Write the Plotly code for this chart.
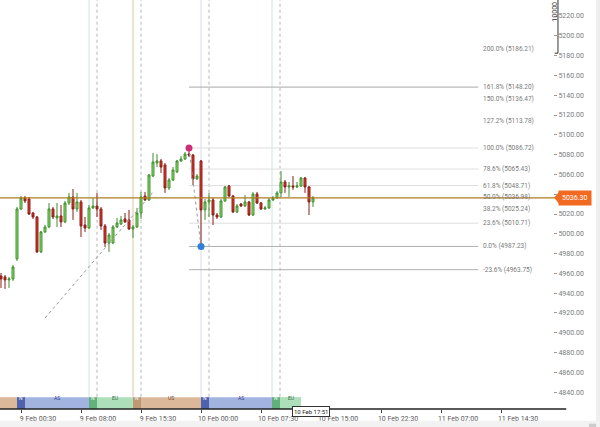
import plotly.graph_objects as go

# ---------------- data ----------------
idx = list(range(-5, 74))
opens = [4957.4, 4956.4, 4953.4, 4954.4, 4974.6, 5025.1, 5036.2, 5035.2, 5021.0, 5017.0,
         4981.7, 5001.9, 5006.9, 5025.1, 5016.0, 5018.0, 5012.0, 5031.1, 5037.2, 5025.1,
         5032.2, 5008.9, 5005.9, 5026.1, 5028.1, 5025.1, 5007.9, 4990.7, 4990.7, 5006.9,
         5009.9, 5015.0, 5014.0, 5004.9, 5006.9, 5021.0, 5038.2, 5034.2, 5058.4, 5071.6,
         5073.6, 5069.5, 5046.3, 5054.4, 5062.5, 5073.6, 5075.6, 5080.6, 5079.6, 5055.4,
         5073.6, 5024.1, 5032.2, 5034.2, 5019.0, 5017.0, 5033.2, 5048.3, 5038.2, 5022.1,
         5030.1, 5028.1, 5032.2, 5019.0, 5040.2, 5031.1, 5025.1, 5026.1, 5034.2, 5036.2,
         5041.3, 5052.4, 5047.3, 5048.3, 5047.3, 5048.3, 5056.4, 5047.3, 5032.2]
closes = [4954.4, 4953.4, 4954.4, 4966.5, 5025.1, 5036.2, 5033.2, 5020.0, 5017.0, 4981.7,
          5001.9, 5006.9, 5025.1, 5017.0, 5018.0, 5012.0, 5031.1, 5037.2, 5025.1, 5032.2,
          5007.9, 5005.9, 5026.1, 5028.1, 5025.1, 5007.9, 4990.7, 4998.8, 5006.9, 5010.9,
          5014.0, 5012.0, 5004.9, 5006.9, 5021.0, 5037.2, 5034.2, 5059.4, 5072.6, 5073.6,
          5067.5, 5046.3, 5054.4, 5064.5, 5073.6, 5075.6, 5080.6, 5079.6, 5055.4, 5058.4,
          5024.1, 5032.2, 5034.2, 5019.0, 5017.0, 5033.2, 5047.3, 5038.2, 5022.1, 5028.1,
          5028.1, 5032.2, 5019.0, 5040.2, 5031.1, 5025.1, 5026.1, 5034.2, 5036.2, 5041.3,
          5052.4, 5047.3, 5048.3, 5047.3, 5048.3, 5056.4, 5047.3, 5032.2, 5036.3]
highs = [4960.4, 4958.4, 4956.4, 4968.5, 5027.1, 5038.2, 5038.2, 5037.2, 5022.1, 5018.0,
         5002.9, 5008.9, 5031.1, 5027.1, 5031.1, 5029.1, 5033.2, 5041.3, 5045.3, 5041.3,
         5034.2, 5017.0, 5029.1, 5036.2, 5041.3, 5027.1, 5009.9, 5000.8, 5008.9, 5016.0,
         5018.0, 5021.0, 5024.1, 5008.9, 5026.1, 5042.3, 5042.3, 5060.4, 5081.7, 5080.6,
         5075.6, 5071.6, 5056.4, 5067.5, 5074.6, 5078.6, 5082.7, 5086.72, 5080.6, 5060.4,
         5074.6, 5035.2, 5041.3, 5036.2, 5021.0, 5035.2, 5048.3, 5049.3, 5039.2, 5030.1,
         5031.1, 5039.2, 5033.2, 5042.3, 5042.3, 5032.2, 5028.1, 5036.2, 5038.2, 5043.3,
         5063.5, 5054.4, 5052.4, 5058.4, 5052.4, 5057.4, 5057.4, 5048.3, 5038.2]
lows = [4945.3, 4944.3, 4945.3, 4952.4, 4972.6, 5024.1, 5031.1, 5019.0, 5015.0, 4980.6,
        4980.6, 5000.8, 5005.9, 5015.0, 5006.9, 5006.9, 5010.9, 5029.1, 5014.0, 5022.1,
        4996.8, 5001.9, 5004.9, 5025.1, 5017.0, 5003.9, 4986.7, 4981.7, 4989.7, 5005.9,
        5008.9, 5010.9, 5003.9, 4995.8, 5005.9, 5015.0, 5033.2, 5033.2, 5057.4, 5067.5,
        5061.5, 5041.3, 5044.3, 5053.4, 5061.5, 5072.6, 5074.6, 5077.6, 5049.3, 5054.4,
        4987.23, 5014.0, 5017.0, 5008.9, 5015.0, 5016.0, 5032.2, 5037.2, 5021.0, 5021.0,
        5027.1, 5027.1, 5018.0, 5018.0, 5030.1, 5024.1, 5024.1, 5025.1, 5033.2, 5035.2,
        5037.2, 5041.3, 5037.2, 5044.3, 5046.3, 5047.3, 5041.3, 5019.0, 5027.1]

# x-axis ticks (bar index) and labels
tick_idx = [0, 15, 30, 45, 60, 75, 90, 105, 120]
tick_text = ["9 Feb 00:30", "9 Feb 08:00", "9 Feb 15:30", "10 Feb 00:00", "10 Feb 07:30",
             "10 Feb 15:00", "10 Feb 22:30", "11 Feb 07:00", "11 Feb 14:30"]

# price axis
price_ticks = list(range(4840, 5221, 20))
last_price = 5036.30

# dotted trend line (bar index, price)
trend_x = [6, 33]
trend_y = [4915.0, 5042.0]

# fibonacci
fib_high_idx, fib_high = 42, 5086.72
fib_low_idx, fib_low = 45, 4987.23
fib_ratios = [2.0, 1.618, 1.5, 1.272, 1.0, 0.786, 0.618, 0.5, 0.382, 0.236, 0.0, -0.236]
fib_pct = ["200.0%", "161.8%", "150.0%", "127.2%", "100.0%", "78.6%", "61.8%", "50.0%",
           "38.2%", "23.6%", "0.0%", "-23.6%"]
fib_line_col = [None, "#a8a8a8", None, None, "#dedede", "#dedede", "#dedede", None,
                None, "#dedede", "#b0b0b0", "#b0b0b0"]
fib_end_idx = 114.3

# sessions (bar-index boundaries)
sess_start = [-5.3, -1, 1, 17, 19, 28, 30, 45, 47, 62.75, 64.75]
sess_end = [-1, 1, 17, 19, 28, 30, 45, 47, 62.75, 64.75, 70]
sess_label = ["", "N", "AS", "N", "EU", "N", "US", "N", "AS", "N", "EU"]
sess_kind = ["US", "ASN", "AS", "EUN", "EU", "USN", "US", "ASN", "AS", "EUN", "EU"]
sess_fill = {"US": "#dcb89b", "USN": "#bf9774", "AS": "#a3b3df", "ASN": "#4f63ad",
             "EU": "#ade0ba", "EUN": "#62b07a"}
sess_font = {"US": "#6b4a2e", "USN": "#ffffff", "AS": "#33408a", "ASN": "#ffffff",
             "EU": "#2a6a3a", "EUN": "#ffffff"}
sess_open_idx = [17, 28, 45, 62.75]
sess_open_col = ["#cfe6d8", "#dcc4ae", "#d8dcec", "#cfe6d8"]
sess_after_idx = [19, 30, 47, 64.75]

X_RANGE = [-5.25, 133.0]
Y_RANGE = [4823.0, 5236.2]

fig = go.Figure()

# dotted trend line
fig.add_trace(go.Scatter(x=trend_x, y=trend_y, mode="lines",
                         line=dict(color="#9a9a9a", width=1, dash="dot"),
                         showlegend=False, hoverinfo="skip"))

fig.add_trace(go.Candlestick(
    x=idx, open=opens, high=highs, low=lows, close=closes,
    increasing=dict(fillcolor="#8fe06c", line=dict(color="#3f8f2c", width=1)),
    decreasing=dict(fillcolor="#dd3a2e", line=dict(color="#8c1c15", width=1)),
    whiskerwidth=0, showlegend=False, hoverinfo="skip"))

shapes = []
annotations = []

# session vertical lines
for xi, col in zip(sess_open_idx, sess_open_col):
    shapes.append(dict(type="line", xref="x", yref="paper", x0=xi, x1=xi, y0=0.03, y1=1,
                       line=dict(color=col, width=1), layer="below"))
for xi in sess_after_idx:
    shapes.append(dict(type="line", xref="x", yref="paper", x0=xi, x1=xi, y0=0.03, y1=1,
                       line=dict(color="#b4b4b4", width=1, dash="3px,3px"), layer="below"))

# fib levels
rng = fib_high - fib_low
for r, pct, col in zip(fib_ratios, fib_pct, fib_line_col):
    lvl = fib_low + r * rng
    if col:
        shapes.append(dict(type="line", xref="x", yref="y", x0=fib_high_idx, x1=fib_end_idx,
                           y0=lvl, y1=lvl, line=dict(color=col, width=1), layer="below"))
    annotations.append(dict(x=fib_end_idx + 0.8, y=lvl, xref="x", yref="y", xanchor="left",
                            yanchor="middle", showarrow=False,
                            text=f"{pct} ({lvl:.2f})",
                            font=dict(size=6.5, color="#7a7a7a", family="Roboto")))

# fib connector and dots
fig.add_trace(go.Scatter(x=[fib_high_idx, fib_low_idx], y=[fib_high, fib_low], mode="lines",
                         line=dict(color="#9a9a9a", width=1, dash="dot"),
                         showlegend=False, hoverinfo="skip"))
fig.add_trace(go.Scatter(x=[fib_high_idx], y=[fib_high], mode="markers",
                         marker=dict(color="#cc2f7a", size=7), showlegend=False, hoverinfo="skip"))
fig.add_trace(go.Scatter(x=[fib_low_idx], y=[fib_low], mode="markers",
                         marker=dict(color="#2f7fd6", size=7), showlegend=False, hoverinfo="skip"))

# current price line
shapes.append(dict(type="line", xref="paper", yref="y", x0=0, x1=1.004, y0=last_price,
                   y1=last_price, line=dict(color="#b07a22", width=1.3)))
shapes.append(dict(type="path", xref="paper", yref="y",
                   path=f"M 1.002 {last_price} L 1.011 {last_price+6} L 1.011 {last_price-6} Z",
                   fillcolor="#f26a22", line=dict(width=0)))
annotations.append(dict(x=1.009, y=last_price, xref="paper", yref="y", xanchor="left",
                        yanchor="middle", showarrow=False, text=f"{last_price:.2f}",
                        bgcolor="#f26a22", borderpad=3,
                        font=dict(size=7, color="#ffffff", family="Roboto")))

# sessions bar
for s0, s1, lab, kind in zip(sess_start, sess_end, sess_label, sess_kind):
    shapes.append(dict(type="rect", xref="x", yref="paper", x0=s0, x1=s1, y0=0.0, y1=0.029,
                       fillcolor=sess_fill[kind], line=dict(width=0)))
    if lab:
        annotations.append(dict(x=(s0 + s1) / 2, y=0.0145, xref="x", yref="paper",
                                showarrow=False, text=lab,
                                font=dict(size=5, color=sess_font[kind], family="Roboto")))

# x axis line extended
shapes.append(dict(type="line", xref="paper", yref="paper", x0=0, x1=1.024, y0=0, y1=0,
                   line=dict(color="#222222", width=1.5)))

# volume scale marker
shapes.append(dict(type="line", xref="paper", yref="paper", x0=1.009, x1=1.009, y0=1,
                   y1=0.87, line=dict(color="#333333", width=1)))
shapes.append(dict(type="line", xref="paper", yref="paper", x0=1.003, x1=1.009, y0=0.87,
                   y1=0.87, line=dict(color="#333333", width=1)))
annotations.append(dict(x=1.003, y=1.0, xref="paper", yref="paper", textangle=-90,
                        xanchor="center", yanchor="top", showarrow=False, text="10000",
                        font=dict(size=7, color="#333333", family="Roboto")))

# scrollbars
shapes.append(dict(type="rect", xref="paper", yref="paper", x0=1.078, x1=1.09, y0=-0.05,
                   y1=1.0, fillcolor="#eeeeee", line=dict(width=0)))
shapes.append(dict(type="rect", xref="paper", yref="paper", x0=0, x1=1.09, y0=-0.05,
                   y1=-0.029, fillcolor="#f2f2f2", line=dict(width=0)))
shapes.append(dict(type="rect", xref="paper", yref="paper", x0=1.065, x1=1.078, y0=-0.05,
                   y1=-0.036, fillcolor="#cccccc", line=dict(width=0)))

# cursor time label
annotations.append(dict(x=72.5, y=-0.005, xref="x", yref="paper", xanchor="center",
                        yanchor="middle", showarrow=False, text="10 Feb 17:51",
                        bgcolor="#ffffff", bordercolor="#333333", borderwidth=1, borderpad=1,
                        font=dict(size=6, color="#222222", family="Roboto")))

fig.update_layout(
    width=600, height=427,
    margin=dict(l=0, r=47, t=0, b=18),
    paper_bgcolor="#ffffff", plot_bgcolor="#ffffff",
    shapes=shapes, annotations=annotations,
    font=dict(family="Roboto", size=7, color="#666666"),
    xaxis=dict(range=X_RANGE, tickmode="array", tickvals=tick_idx, ticktext=tick_text,
               ticks="outside", ticklen=3, tickcolor="#444444", showgrid=False,
               zeroline=False, showline=False, ticklabelshift=17,
               tickfont=dict(size=7, color="#555555"),
               rangeslider=dict(visible=False), fixedrange=True),
    yaxis=dict(range=Y_RANGE, side="right", tickmode="array", tickvals=price_ticks,
               ticktext=[f"{v:.2f}" for v in price_ticks], ticks="outside", ticklen=3,
               tickcolor="#999999", showgrid=False, zeroline=False, showline=False,
               tickfont=dict(size=7, color="#7a7a7a"), fixedrange=True),
)

fig.write_html("out.html", config={"displayModeBar": False},
               post_script="document.body.style.margin='0px';document.body.style.overflow='hidden';")
